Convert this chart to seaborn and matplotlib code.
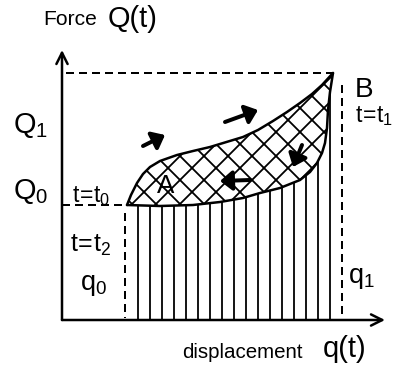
import numpy as np
import pandas as pd
import matplotlib
matplotlib.use("Agg")
import matplotlib.pyplot as plt
import seaborn as sns

# Loading branch A -> B of the force/displacement loop
load_q = [6.5, 6.9, 7.5, 8.1, 8.8, 9.8, 11.5, 13.1, 14.8, 18.1, 19.6, 21.1, 22.5, 23.8, 25.0, 26.0, 27.1]
load_Q = [11.5, 12.5, 13.7, 14.6, 15.3, 15.9, 16.5, 16.9, 17.3, 18.3, 19.0, 19.9, 20.8, 21.7, 22.6, 23.5, 24.7]

# Unloading branch B -> A (listed by increasing displacement)
unload_q = [6.5, 9.8, 13.1, 15.8, 18.1, 19.8, 21.8, 23.8, 24.8, 25.5, 26.0, 26.3, 26.5, 26.6, 26.8, 27.1]
unload_Q = [11.5, 11.4, 11.5, 11.8, 12.2, 12.7, 13.2, 14.0, 14.8, 15.7, 16.7, 17.7, 19.2, 21.0, 22.8, 24.7]

# Characteristic states
q0, q1 = 6.5, 27.1
Q0, Q1 = 11.5, 24.7

sns.set_theme(style="white")
plt.rcParams['font.family'] = ['Liberation Sans', 'DejaVu Sans']
plt.rcParams['text.color'] = 'black'
plt.rcParams['hatch.linewidth'] = 1.8
plt.rcParams['hatch.color'] = 'black'

fig = plt.figure(figsize=(394 / 72, 369 / 72), dpi=72)
ax = fig.add_axes([0, 0, 1, 1])
ax.set_xlim(-6.2, 33.2)
ax.set_ylim(-4.9, 32.0)
ax.axis('off')

load = pd.DataFrame({'q': load_q, 'Q': load_Q})
unload = pd.DataFrame({'q': unload_q, 'Q': unload_Q})

# Work lost in the cycle (area between branches): cross-hatched
ax.fill(np.r_[load['q'], unload['q'][::-1]], np.r_[load['Q'], unload['Q'][::-1]],
        facecolor='none', edgecolor='black', hatch='x', lw=0)
# Work recovered on unloading (area under lower branch): vertical hatching
ax.fill(np.r_[unload['q'], q1, q0], np.r_[unload['Q'], 0, 0],
        facecolor='none', edgecolor='black', hatch='|', lw=0)

sns.lineplot(data=load, x='q', y='Q', sort=False, estimator=None, color='black', lw=2.5, ax=ax)
sns.lineplot(data=unload, x='q', y='Q', sort=False, estimator=None, color='black', lw=2.5, ax=ax)

# Axes with arrow heads
ax_arrow = dict(arrowstyle='->', lw=2.5, color='black', mutation_scale=28, shrinkA=0, shrinkB=0)
ax.annotate('', xy=(32.3, 0), xytext=(0, 0), arrowprops=ax_arrow)
ax.annotate('', xy=(0, 27.0), xytext=(0, 0), arrowprops=ax_arrow)

# Guide lines
dash = (0, (4, 2.5))
ax.plot([0.4, q1], [Q1, Q1], ls=dash, lw=2, color='black')
ax.plot([q1 + 0.9, q1 + 0.9], [23.5, 0.2], ls=dash, lw=2, color='black')
ax.plot([0, q0], [Q0, Q0], ls=dash, lw=2, color='black')
ax.plot([q0 - 0.2, q0 - 0.2], [10.7, 0.2], ls=dash, lw=2, color='black')

# Direction of travel around the loop
dir_arrow = dict(arrowstyle='-|>, head_length=0.55, head_width=0.45', lw=4,
                 color='black', mutation_scale=18, shrinkA=0, shrinkB=0)
for (xs, ys), (xe, ye) in [((8.1, 17.4), (10.3, 18.5)),
                           ((16.3, 19.8), (19.6, 21.0)),
                           ((24.0, 17.5), (23.1, 15.3)),
                           ((18.8, 14.0), (15.8, 13.9))]:
    ax.annotate('', xy=(xe, ye), xytext=(xs, ys), arrowprops=dir_arrow)

# Labels
def label(x, y, s, size):
    ax.text(x, y, s, fontsize=size, color='black', ha='left', va='baseline')

label(-1.9, 29.5, 'Force', 21)
label(4.6, 29.3, 'Q(t)', 29)
label(12.0, -3.8, 'displacement', 20.5)
label(26.1, -3.7, 'q(t)', 29)

label(-4.9, 18.7, r'$\mathregular{Q_1}$', 29)
label(-4.9, 12.1, r'$\mathregular{Q_0}$', 29)
label(1.0, 11.8, r'$\mathregular{t\!=\!t_0}$', 23)
label(0.8, 6.8, r'$\mathregular{t\!=\!t_2}$', 25)
label(1.8, 3.0, r'$\mathregular{q_0}$', 27)
label(28.6, 3.7, r'$\mathregular{q_1}$', 27)
label(29.3, 22.3, 'B', 28)
label(29.3, 19.8, r'$\mathregular{t\!=\!t_1}$', 23)
label(9.5, 12.7, 'A', 26)

fig.savefig('out.png', dpi=72, facecolor='white')
